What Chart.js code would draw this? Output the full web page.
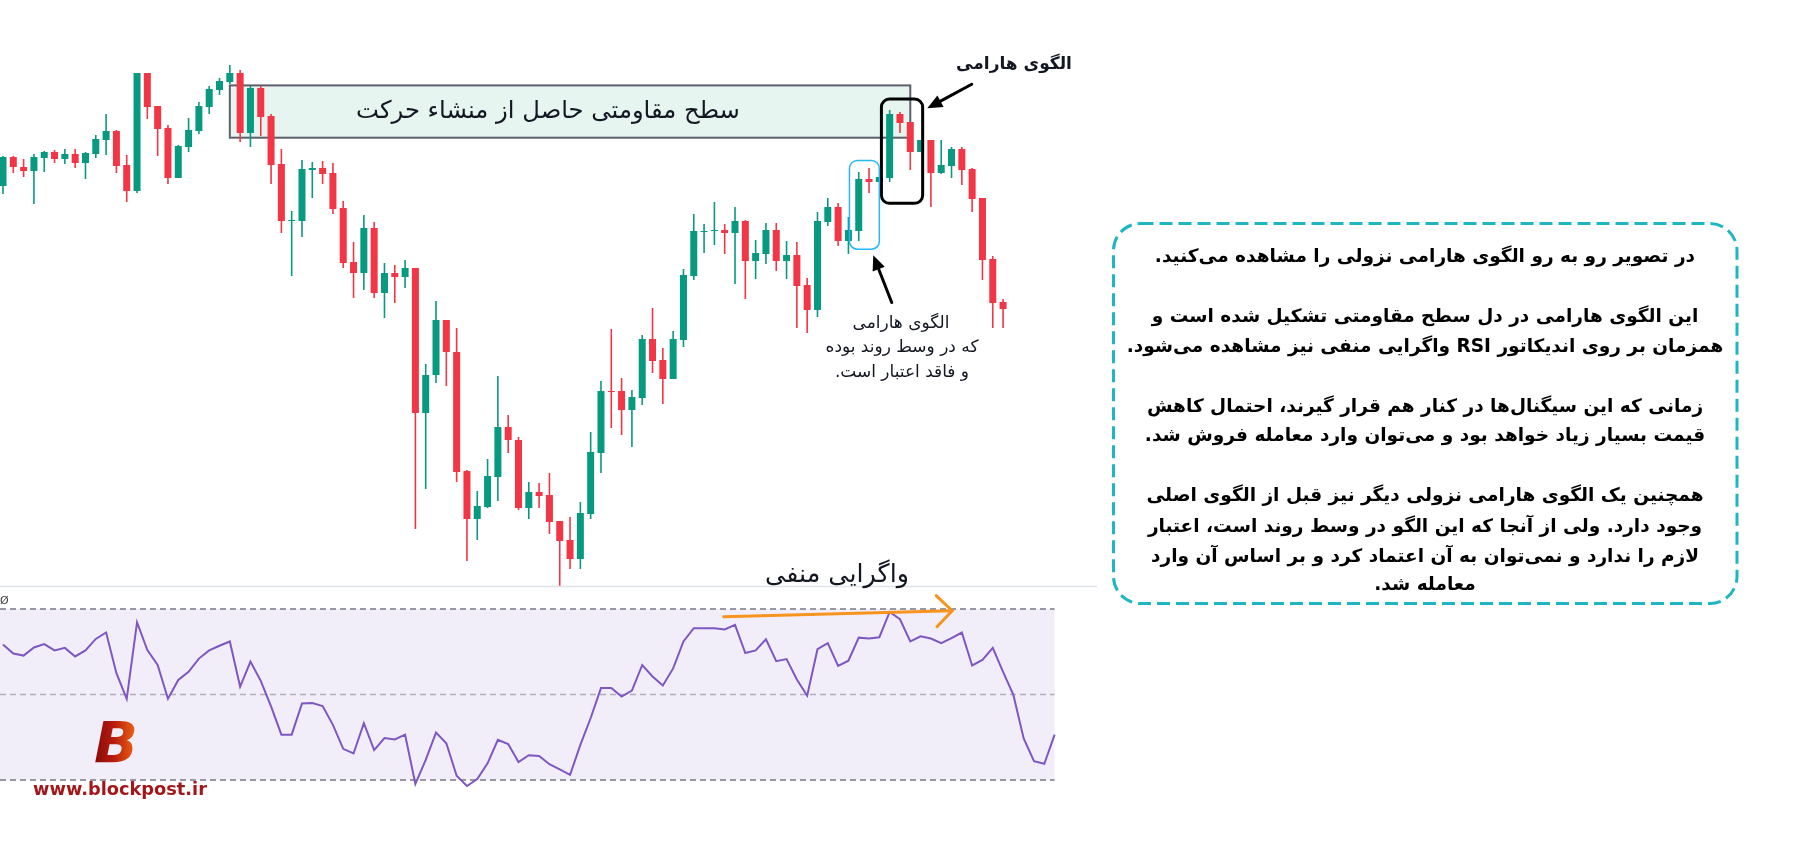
<!DOCTYPE html>
<html lang="fa">
<head>
<meta charset="utf-8">
<script src="https://cdn.jsdelivr.net/npm/chart.js@4.4.1/dist/chart.umd.min.js"></script>
<style>
html,body{margin:0;padding:0;background:#fff;}
body{width:1820px;height:845px;overflow:hidden;position:relative;font-family:'DejaVu Sans',sans-serif;}
#priceWrap{position:absolute;left:0;top:0;width:1097px;height:590px;}
#rsiWrap{position:absolute;left:0;top:590px;width:1097px;height:210px;}
canvas{display:block;}
.lbl{position:absolute;left:0;top:0;white-space:nowrap;transform:translate(-50%,-50%);line-height:1.2;font-family:'DejaVu Sans',sans-serif;color:#131722;}
.bold{font-weight:bold;}
#note .lbl{color:#000;font-weight:bold;}
#logoB{font-style:italic;font-weight:900;background:linear-gradient(90deg,#860a0a 0%,#b81c0e 45%,#f26c10 100%);-webkit-background-clip:text;background-clip:text;color:transparent;}
#logoUrl{font-weight:bold;color:#a3171a;}
#eye{font-size:11px;color:#444;transform:none;}
svg{position:absolute;left:0;top:0;}
</style>
</head>
<body>
<div id="priceWrap"><canvas id="priceChart" width="1097" height="590" style="width:1097px;height:590px"></canvas></div>
<div id="rsiWrap"><canvas id="rsiChart" width="1097" height="210" style="width:1097px;height:210px"></canvas></div>

<svg width="1820" height="845"><rect x="1113.5" y="223.5" width="623.5" height="380" rx="27" ry="27" fill="none" stroke="#1fb6c3" stroke-width="3" stroke-dasharray="13 6"/></svg>

<div class="lbl" dir="rtl" data-cx="548" data-cy="110" data-w="384" style="font-size:24px">سطح مقاومتی حاصل از منشاء حرکت</div>
<div class="lbl bold" dir="rtl" data-cx="1014" data-cy="63" data-w="116" style="font-size:18px">الگوی هارامی</div>
<div class="lbl" dir="rtl" data-cx="901" data-cy="322" data-w="96" data-group="mid" style="font-size:15px">الگوی هارامی</div>
<div class="lbl" dir="rtl" data-cx="902" data-cy="346" data-w="153" data-group="mid" data-ref="1" style="font-size:15px">که در وسط روند بوده</div>
<div class="lbl" dir="rtl" data-cx="902" data-cy="371" data-w="139" data-group="mid" style="font-size:15px">و فاقد اعتبار است.</div>
<div class="lbl" dir="rtl" data-cx="837" data-cy="573" data-w="144" style="font-size:26px">واگرایی منفی</div>

<div id="note">
<div class="lbl" dir="rtl" data-cx="1425" data-cy="256" data-group="note" style="font-size:17px">در تصویر رو به رو الگوی هارامی نزولی را مشاهده می&zwnj;کنید.</div>
<div class="lbl" dir="rtl" data-cx="1425" data-cy="316" data-group="note" style="font-size:17px">این الگوی هارامی در دل سطح مقاومتی تشکیل شده است و</div>
<div class="lbl" dir="rtl" data-cx="1425" data-cy="346" data-group="note" style="font-size:17px">همزمان بر روی اندیکاتور RSI واگرایی منفی نیز مشاهده می&zwnj;شود.</div>
<div class="lbl" dir="rtl" data-cx="1425" data-cy="406" data-group="note" style="font-size:17px">زمانی که این سیگنال&zwnj;ها در کنار هم قرار گیرند، احتمال کاهش</div>
<div class="lbl" dir="rtl" data-cx="1425" data-cy="435" data-group="note" data-ref="1" data-w="561" style="font-size:17px">قیمت بسیار زیاد خواهد بود و می&zwnj;توان وارد معامله فروش شد.</div>
<div class="lbl" dir="rtl" data-cx="1425" data-cy="495" data-group="note" style="font-size:17px">همچنین یک الگوی هارامی نزولی دیگر نیز قبل از الگوی اصلی</div>
<div class="lbl" dir="rtl" data-cx="1425" data-cy="526" data-group="note" style="font-size:17px">وجود دارد. ولی از آنجا که این الگو در وسط روند است، اعتبار</div>
<div class="lbl" dir="rtl" data-cx="1425" data-cy="556" data-group="note" style="font-size:17px">لازم را ندارد و نمی&zwnj;توان به آن اعتماد کرد و بر اساس آن وارد</div>
<div class="lbl" dir="rtl" data-cx="1425" data-cy="584" data-group="note" style="font-size:17px">معامله شد.</div>
</div>

<div class="lbl" id="eye" style="left:0px;top:594px">Ø</div>
<div class="lbl" id="logoB" data-cx="116" data-cy="744" data-w="44" style="font-size:60px">B</div>
<div class="lbl" id="logoUrl" data-cx="120" data-cy="789" data-w="174" style="font-size:15px">www.blockpost.ir</div>

<script>
// ---------- DATA ----------
const opens  = [414,443,433,429,442,448,441,446,437,446, 460,469,435,409,527,494,472,422,453,469,
                493,510,518,527,467,512,484,436,379,379, 430,432,427,392,338,327,372,307,327,323,
                332,187,225,280,248,129,81,93,123,173, 160,92,108,105,79,60,41,86,147,209,
                209,190,202,261,240,221,260,324,368,369, 370,367,379,339,346,370,339,345,315,290,
                378,393,359,369,421,418,422,486,478,448, 460,427,434,451,431,402,341,298];
const closes = [443,433,429,443,448,441,446,437,447,461, 469,434,409,527,493,471,422,454,470,494,
                511,519,527,467,512,483,435,379,380,431, 432,426,391,337,327,372,307,327,323,332,
                187,225,280,248,128,81,94,124,173,160, 92,108,104,78,59,41,87,148,209,208,
                190,203,261,239,221,261,325,369,369,370, 367,379,339,347,370,339,345,314,290,379,
                393,359,370,421,418,423,486,477,448,460, 427,435,451,430,401,340,297,291];
const highs  = [444,444,441,446,449,450,451,451,448,465, 486,470,445,527,527,494,475,455,482,498,
                514,522,535,530,514,514,486,451,389,440, 438,439,437,399,358,385,378,337,335,340,
                332,236,299,280,272,130,109,141,224,185, 163,118,117,127,79,83,98,168,219,271,
                222,210,265,292,252,269,331,386,376,398, 376,393,380,360,377,377,359,358,322,388,
                402,397,383,428,432,423,490,488,478,460, 460,460,453,453,432,402,344,301];
const lows   = [406,427,423,396,428,437,436,432,421,442, 445,427,398,407,481,444,416,422,448,466,
                486,505,516,458,453,464,416,367,324,363, 402,416,386,332,302,310,302,282,297,312,
                71,111,217,214,118,39,60,92,99,147, 90,81,92,66,14,31,31,81,127,172,
                165,153,195,227,196,221,253,320,347,355, 346,316,301,321,336,329,321,272,267,283,
                374,354,346,359,407,418,418,467,430,448, 393,426,422,415,388,320,272,272];
const rsiValues = [61.7,59.6,59.1,61.0,61.8,60.3,60.9,58.9,60.3,63.0,
                   64.5,55.0,49.0,66.9,60.4,56.9,49.0,53.4,55.3,58.4,
                   60.3,61.4,62.4,51.8,57.7,53.2,47.2,40.6,40.6,47.9,
                   48.0,47.3,42.9,37.3,36.2,43.3,37.0,39.8,39.5,40.6,
                   29.1,34.7,41.1,38.6,31.0,28.6,30.2,33.9,39.4,38.4,
                   34.2,35.8,35.6,33.7,32.5,31.2,38.2,44.5,51.5,51.5,
                   49.5,50.9,56.9,54.2,52.1,56.1,62.4,65.5,65.5,65.5,
                   65.2,66.3,59.7,60.3,62.9,57.8,58.3,53.5,49.7,60.6,
                   62.0,56.7,57.9,63.3,63.1,63.4,69.3,67.6,62.4,63.6,
                   63.1,62.0,63.2,64.5,56.8,58.1,60.9,55.3,49.9,39.7,
                   34.4,33.8,40.6];
const rsiUpper = 70, rsiMiddle = 50, rsiLower = 30;

// annotations (bar index / price units)
const resistanceZone   = {fromBar:22,   toBar:88,   top:514.6, bottom:462.3};
const haramiFrame      = {fromBar:85.2, toBar:89.2, top:500.9, bottom:396.7};
const earlyHaramiFrame = {fromBar:82.1, toBar:85.0, top:439.5, bottom:350.8};
const arrowToHarami    = {from:[93.96,515.7], to:[89.65,491.7]};
const arrowToEarly     = {from:[86.2,297.5],  to:[84.41,344.8]};
const divergenceArrow  = {from:[69.9,68.2],   to:[92.06,69.6]};

// ---------- LAYOUT ----------
const BAR_SPACING = 10.31, FIRST_BAR_X = 3, PANE_W = 1097;
const xMin = -FIRST_BAR_X / BAR_SPACING;
const xMax = xMin + PANE_W / BAR_SPACING;
const UP = '#089981', DOWN = '#f23645';

const bars = opens.map((_, i) => i);
const candleColors = bars.map(i => closes[i] >= opens[i] ? UP : DOWN);

function roundRect(ctx, x, y, w, h, r) {
  ctx.beginPath();
  if (ctx.roundRect) ctx.roundRect(x, y, w, h, r);
  else ctx.rect(x, y, w, h);
}
function drawArrow(ctx, x1, y1, x2, y2, color, width, filled) {
  const a = Math.atan2(y2 - y1, x2 - x1);
  ctx.save();
  ctx.strokeStyle = color; ctx.fillStyle = color; ctx.lineWidth = width; ctx.lineCap = 'round';
  if (filled) {
    const L = 15, H = 6.5;
    const bx = x2 - L * Math.cos(a), by = y2 - L * Math.sin(a);
    ctx.beginPath(); ctx.moveTo(x1, y1); ctx.lineTo(bx, by); ctx.stroke();
    ctx.beginPath();
    ctx.moveTo(x2, y2);
    ctx.lineTo(bx + H * Math.sin(a), by - H * Math.cos(a));
    ctx.lineTo(bx - H * Math.sin(a), by + H * Math.cos(a));
    ctx.closePath(); ctx.fill();
  } else {
    const L = 22;
    ctx.beginPath(); ctx.moveTo(x1, y1); ctx.lineTo(x2, y2); ctx.stroke();
    ctx.beginPath();
    ctx.moveTo(x2 - L * Math.cos(a - Math.PI / 4), y2 - L * Math.sin(a - Math.PI / 4));
    ctx.lineTo(x2, y2);
    ctx.lineTo(x2 - L * Math.cos(a + Math.PI / 4), y2 - L * Math.sin(a + Math.PI / 4));
    ctx.stroke();
  }
  ctx.restore();
}

const priceAnnotations = {
  id: 'priceAnnotations',
  beforeDatasetsDraw(chart) {
    const {ctx, scales: {x, y}} = chart;
    const z = resistanceZone;
    const x0 = x.getPixelForValue(z.fromBar), x1 = x.getPixelForValue(z.toBar);
    const y0 = y.getPixelForValue(z.top), y1 = y.getPixelForValue(z.bottom);
    ctx.save();
    ctx.fillStyle = '#e7f5f1';
    ctx.fillRect(x0, y0, x1 - x0, y1 - y0);
    ctx.strokeStyle = '#5d606b'; ctx.lineWidth = 2;
    ctx.strokeRect(x0, y0, x1 - x0, y1 - y0);
    ctx.restore();
  },
  afterDatasetsDraw(chart) {
    const {ctx, scales: {x, y}} = chart;
    ctx.save();
    let f = haramiFrame;
    let fx0 = x.getPixelForValue(f.fromBar), fx1 = x.getPixelForValue(f.toBar);
    let fy0 = y.getPixelForValue(f.top), fy1 = y.getPixelForValue(f.bottom);
    ctx.strokeStyle = '#000'; ctx.lineWidth = 3;
    roundRect(ctx, fx0, fy0, fx1 - fx0, fy1 - fy0, 8); ctx.stroke();
    f = earlyHaramiFrame;
    fx0 = x.getPixelForValue(f.fromBar); fx1 = x.getPixelForValue(f.toBar);
    fy0 = y.getPixelForValue(f.top); fy1 = y.getPixelForValue(f.bottom);
    ctx.strokeStyle = '#29b6f6'; ctx.lineWidth = 1.5;
    roundRect(ctx, fx0, fy0, fx1 - fx0, fy1 - fy0, 8); ctx.stroke();
    ctx.restore();
    for (const ar of [arrowToHarami, arrowToEarly]) {
      drawArrow(ctx, x.getPixelForValue(ar.from[0]), y.getPixelForValue(ar.from[1]),
                x.getPixelForValue(ar.to[0]), y.getPixelForValue(ar.to[1]), '#000', 3, true);
    }
    ctx.save();
    ctx.strokeStyle = '#e0e3eb'; ctx.lineWidth = 1.5;
    ctx.beginPath(); ctx.moveTo(0, 586.5); ctx.lineTo(chart.width, 586.5); ctx.stroke();
    ctx.restore();
  }
};

const rsiAnnotations = {
  id: 'rsiAnnotations',
  beforeDatasetsDraw(chart) {
    const {ctx, scales: {x, y}} = chart;
    const xl = x.getPixelForValue(xMin), xr = x.getPixelForValue(rsiValues.length - 1);
    const yu = y.getPixelForValue(rsiUpper), yl = y.getPixelForValue(rsiLower), ym = y.getPixelForValue(rsiMiddle);
    ctx.save();
    ctx.fillStyle = 'rgba(126,87,194,0.1)';
    ctx.fillRect(xl, yu, xr - xl, yl - yu);
    ctx.lineWidth = 1.3; ctx.setLineDash([6, 4]);
    ctx.strokeStyle = '#787b86';
    for (const yy of [yu, yl]) { ctx.beginPath(); ctx.moveTo(xl, yy); ctx.lineTo(xr, yy); ctx.stroke(); }
    ctx.strokeStyle = 'rgba(120,123,134,0.55)';
    ctx.beginPath(); ctx.moveTo(xl, ym); ctx.lineTo(xr, ym); ctx.stroke();
    ctx.restore();
  },
  afterDatasetsDraw(chart) {
    const {ctx, scales: {x, y}} = chart;
    const a = divergenceArrow;
    drawArrow(ctx, x.getPixelForValue(a.from[0]), y.getPixelForValue(a.from[1]),
              x.getPixelForValue(a.to[0]), y.getPixelForValue(a.to[1]), '#f7941d', 3, false);
  }
};

const hiddenAxes = (ymin, ymax) => ({
  x: {type: 'linear', min: xMin, max: xMax, offset: false, display: false},
  y: {type: 'linear', min: ymin, max: ymax, display: false}
});
const commonOpts = {
  responsive: false, animation: false, devicePixelRatio: 1,
  layout: {padding: 0},
  plugins: {legend: {display: false}, tooltip: {enabled: false}, title: {display: false}}
};

new Chart(document.getElementById('priceChart'), {
  type: 'bar',
  data: {
    datasets: [
      {label: 'body', data: bars.map(i => ({x: i, y: [opens[i], closes[i]]})),
       backgroundColor: candleColors, grouped: false, maxBarThickness: 7, minBarLength: 1, borderWidth: 0},
      {label: 'wick', data: bars.map(i => ({x: i, y: [lows[i], highs[i]]})),
       backgroundColor: candleColors, grouped: false, maxBarThickness: 1.6, borderWidth: 0}
    ]
  },
  options: {...commonOpts, scales: hiddenAxes(10, 600)},
  plugins: [priceAnnotations]
});

new Chart(document.getElementById('rsiChart'), {
  type: 'line',
  data: {
    datasets: [{label: 'RSI', data: rsiValues.map((v, i) => ({x: i, y: v})),
      borderColor: '#7e57c2', borderWidth: 2, pointRadius: 0, tension: 0, fill: false}]
  },
  options: {...commonOpts, scales: hiddenAxes(25.32, 74.444)},
  plugins: [rsiAnnotations]
});

// ---------- TEXT PLACEMENT ----------
function fitGroup(group) {
  const els = [...document.querySelectorAll('[data-group="' + group + '"]')];
  const ref = els.find(e => e.dataset.ref) || els[0];
  const fs = parseFloat(getComputedStyle(ref).fontSize);
  const w = ref.getBoundingClientRect().width;
  const nfs = fs * parseFloat(ref.dataset.w) / w;
  els.forEach(e => e.style.fontSize = nfs + 'px');
}
fitGroup('mid');
fitGroup('note');
document.querySelectorAll('.lbl[data-cx]').forEach(el => {
  if (!el.dataset.group && el.dataset.w) {
    const fs = parseFloat(getComputedStyle(el).fontSize);
    const w = el.getBoundingClientRect().width;
    el.style.fontSize = (fs * parseFloat(el.dataset.w) / w) + 'px';
  }
  el.style.left = el.dataset.cx + 'px';
  el.style.top = el.dataset.cy + 'px';
});
</script>
</body>
</html>
